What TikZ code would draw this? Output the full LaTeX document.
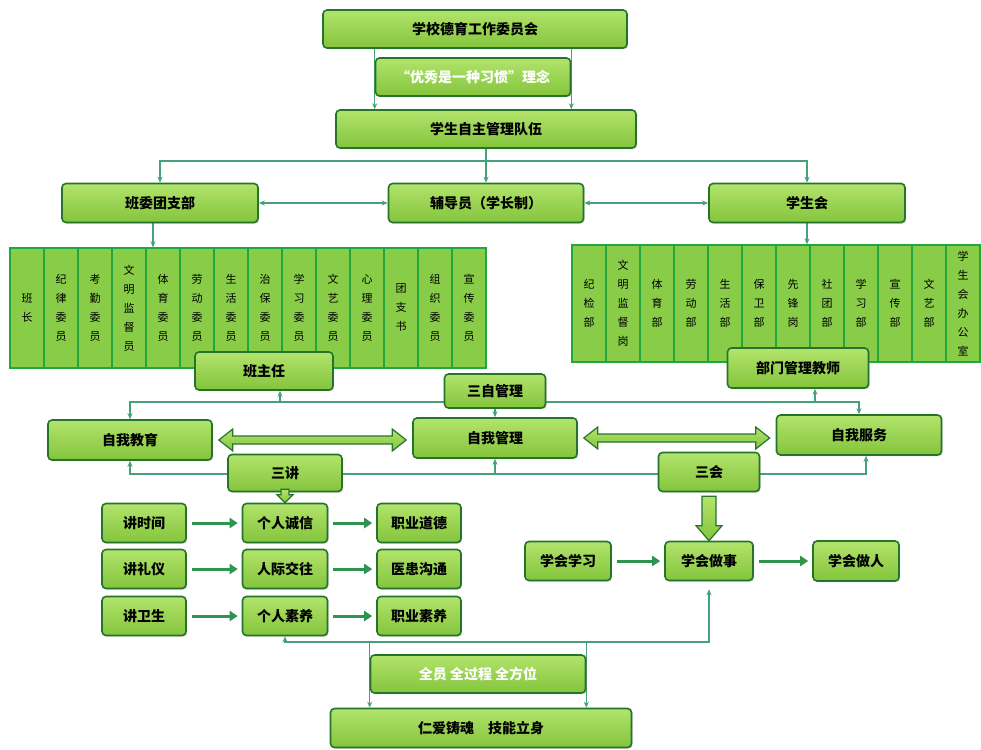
\documentclass[tikz,border=0pt]{standalone}
\usepackage{fontspec}
\newfontfamily\cjk{Noto Sans CJK SC}
\usetikzlibrary{arrows.meta, backgrounds, shadows, calc}

\definecolor{boxtop}{RGB}{178,228,108}
\definecolor{boxbot}{RGB}{132,196,60}
\definecolor{boxline}{RGB}{36,116,44}
\definecolor{colfill}{RGB}{136,204,72}
\definecolor{colline}{RGB}{34,166,62}
\definecolor{connline}{RGB}{72,160,120}
\definecolor{fatline}{RGB}{46,148,80}

\tikzset{
  box/.style={rounded corners=4pt, draw=boxline, line width=1.6pt,
    top color=boxtop, bottom color=boxbot, inner sep=0pt,
    drop shadow={shadow xshift=1.2pt, shadow yshift=-1.2pt, opacity=0.35},
    font=\cjk\bfseries\fontsize{14}{16}\selectfont},
  wbox/.style={box, text=white},
  col/.style={draw=colline, line width=1.4pt, fill=colfill, inner sep=0pt,
    minimum width=34pt, align=center, font=\cjk\fontsize{11}{19}\selectfont},
  conn/.style={draw=connline, line width=1.3pt, -{Stealth[length=6pt,width=5pt]}},
  dconn/.style={conn, {Stealth[length=6pt,width=5pt]}-{Stealth[length=6pt,width=5pt]}},
  fatarrow/.style={draw=fatline, line width=3pt, -{Triangle[length=8pt,width=10pt]},
    shorten <=5pt, shorten >=4pt},
  blockarr/.style={draw=boxline, line width=1.2pt, top color=boxtop, bottom color=boxbot},
}

\begin{document}
\begin{tikzpicture}[x=1pt, y=-1pt]
  \useasboundingbox (0,0) rectangle (981,749);

  % top chain
  \node[box, minimum width=304pt, minimum height=38pt] (wy) at (475,29) {学校德育工作委员会};
  \node[wbox, minimum width=195pt, minimum height=38pt] (idea) at (473,77) {“优秀是一种习惯”理念};
  \node[box, minimum width=300pt, minimum height=38pt] (team) at (486,129) {学生自主管理队伍};
  \coordinate (fork) at (486,161);

  % three branches
  \node[box, minimum width=196pt, minimum height=39pt] (banwei) at (160,203) {班委团支部};
  \node[box, minimum width=195pt, minimum height=39pt] (fudao) at (486,203) {辅导员（学长制）};
  \node[box, minimum width=196pt, minimum height=39pt] (xsh) at (807,203) {学生会};

  % class committee columns
  \foreach \t [count=\i] in {班\\长, 纪\\律\\委\\员, 考\\勤\\委\\员, 文\\明\\监\\督\\员,
      体\\育\\委\\员, 劳\\动\\委\\员, 生\\活\\委\\员, 治\\保\\委\\员, 学\\习\\委\\员,
      文\\艺\\委\\员, 心\\理\\委\\员, 团\\支\\书, 组\\织\\委\\员, 宣\\传\\委\\员}
    \node[col, minimum height=120pt] (l\i) at ({34*\i-7},308) {\t};

  % student union columns
  \foreach \t [count=\i] in {纪\\检\\部, 文\\明\\监\\督\\岗, 体\\育\\部, 劳\\动\\部,
      生\\活\\部, 保\\卫\\部, 先\\锋\\岗, 社\\团\\部, 学\\习\\部, 宣\\传\\部,
      文\\艺\\部, 学\\生\\会\\办\\公\\室}
    \node[col, minimum height=117pt] (r\i) at ({34*\i+555},303.5) {\t};

  \node[box, minimum width=138pt, minimum height=38pt] (banzhu) at (264,371) {班主任};
  \node[box, minimum width=141pt, minimum height=40pt] (bumen) at (798,368) {部门管理教师};
  \node[box, minimum width=101pt, minimum height=34pt] (sanzi) at (495,391) {三自管理};
  \coordinate (ruleA) at (495,402);

  % three selves
  \node[box, minimum width=164pt, minimum height=40pt] (jiaoyu) at (130,440) {自我教育};
  \node[box, minimum width=164pt, minimum height=40pt] (guanli) at (495,438) {自我管理};
  \node[box, minimum width=165pt, minimum height=40pt] (fuwu) at (859,435) {自我服务};

  \node[box, minimum width=114pt, minimum height=37pt] (sanjiang) at (285,473) {三讲};
  \node[box, minimum width=101pt, minimum height=39pt] (sanhui) at (709,472) {三会};
  \coordinate (ruleB) at (495,474);

  % three talks
  \node[box, minimum width=84pt, minimum height=39pt] (sj) at (144,523) {讲时间};
  \node[box, minimum width=85pt, minimum height=39pt] (cx) at (285,523) {个人诚信};
  \node[box, minimum width=84pt, minimum height=39pt] (dd) at (419,523) {职业道德};
  \node[box, minimum width=84pt, minimum height=39pt] (ly) at (144,569) {讲礼仪};
  \node[box, minimum width=85pt, minimum height=39pt] (jw) at (285,569) {人际交往};
  \node[box, minimum width=84pt, minimum height=39pt] (gt) at (419,569) {医患沟通};
  \node[box, minimum width=84pt, minimum height=39pt] (ws) at (144,616) {讲卫生};
  \node[box, minimum width=85pt, minimum height=39pt] (sy) at (285,616) {个人素养};
  \node[box, minimum width=84pt, minimum height=39pt] (zs) at (419,616) {职业素养};

  % three learns
  \node[box, minimum width=86pt, minimum height=39pt] (xx) at (568,561) {学会学习};
  \node[box, minimum width=88pt, minimum height=39pt] (zuoshi) at (709,561) {学会做事};
  \node[box, minimum width=86pt, minimum height=40pt] (zuoren) at (856,561) {学会做人};

  % bottom chain
  \coordinate (bus) at (480,642);
  \node[wbox, minimum width=215pt, minimum height=38pt] (quan) at (478,674) {全员\ 全过程\ 全方位};
  \node[box, minimum width=301pt, minimum height=39pt] (renai) at (481,728) {仁爱铸魂\quad 技能立身};

  \begin{scope}[on background layer]
    \draw[conn] (wy.south -| idea.west) -- (team.north -| idea.west);
    \draw[conn] (wy.south -| idea.east) -- (team.north -| idea.east);
    \draw[conn] (team.south) -- (fudao.north);
    \draw[conn] (fork) -| (banwei.north);
    \draw[conn] (fork) -| (xsh.north);
    \draw[dconn] (banwei) -- (fudao);
    \draw[dconn] (fudao) -- (xsh);
    \draw[conn] ([xshift=-7pt]banwei.south) -- ([xshift=-7pt]banwei.south |- l1.north);
    \draw[conn] (xsh.south) -- (xsh.south |- r1.north);

    \draw[conn] (ruleA) -| (jiaoyu.north);
    \draw[conn] (ruleA) -| (fuwu.north);
    \draw[conn] (ruleA -| banzhu.south) ++(16,0) -- ([xshift=16pt]banzhu.south);
    \draw[conn] (ruleA -| bumen.south) ++(17,0) -- ([xshift=17pt]bumen.south);
    \draw[conn] (sanzi.south) -- (guanli.north);

    \draw[conn] (ruleB) -| (jiaoyu.south);
    \draw[conn] (ruleB) -| ([xshift=7pt]fuwu.south);
    \draw[conn] (ruleB) -- (guanli.south);

    \draw[dconn, shorten >=8pt] (sy.south) |- (bus) -| (zuoshi.south);
    \draw[conn] (bus -| quan.west) -- (renai.north -| quan.west);
    \draw[conn] (bus -| quan.east) -- (renai.north -| quan.east);
  \end{scope}

  % block arrows
  \draw[blockarr] let \p1=([xshift=6pt]jiaoyu.east), \p2=([xshift=-6pt]guanli.west) in
    (\p1) -- (\x1+14,\y1+11) -- (\x1+14,\y1+4) -- (\x2-14,\y1+4) -- (\x2-14,\y1+11)
    -- (\x2,\y1) -- (\x2-14,\y1-11) -- (\x2-14,\y1-4) -- (\x1+14,\y1-4) -- (\x1+14,\y1-11) -- cycle;
  \draw[blockarr] let \p1=([xshift=6pt]guanli.east), \p2=([xshift=-6pt]fuwu.west) in
    (\p1) -- (\x1+14,\y1+11) -- (\x1+14,\y1+4) -- (\x2-14,\y1+4) -- (\x2-14,\y1+11)
    -- (\x2,\y1) -- (\x2-14,\y1-11) -- (\x2-14,\y1-4) -- (\x1+14,\y1-4) -- (\x1+14,\y1-11) -- cycle;
  \draw[blockarr] let \p1=(sanjiang.south), \p2=(cx.north) in
    (\x1-4,\y1+3) -- (\x1-4,\y2+8) -- (\x1-8,\y2+8) -- (\x1,\y2) -- (\x1+8,\y2+8)
    -- (\x1+4,\y2+8) -- (\x1+4,\y1+3) -- cycle;
  \draw[blockarr] let \p1=(sanhui.south), \p2=(zuoshi.north) in
    (\x1-7,\y1-4) -- (\x1-7,\y2+15) -- (\x1-13,\y2+15) -- (\x1,\y2) -- (\x1+13,\y2+15)
    -- (\x1+7,\y2+15) -- (\x1+7,\y1-4) -- cycle;

  \draw[fatarrow] (sj) -- (cx);
  \draw[fatarrow] (cx) -- (dd);
  \draw[fatarrow] (ly) -- (jw);
  \draw[fatarrow] (jw) -- (gt);
  \draw[fatarrow] (ws) -- (sy);
  \draw[fatarrow] (sy) -- (zs);
  \draw[fatarrow] (xx) -- (zuoshi);
  \draw[fatarrow] (zuoshi) -- (zuoren);
\end{tikzpicture}
\end{document}
